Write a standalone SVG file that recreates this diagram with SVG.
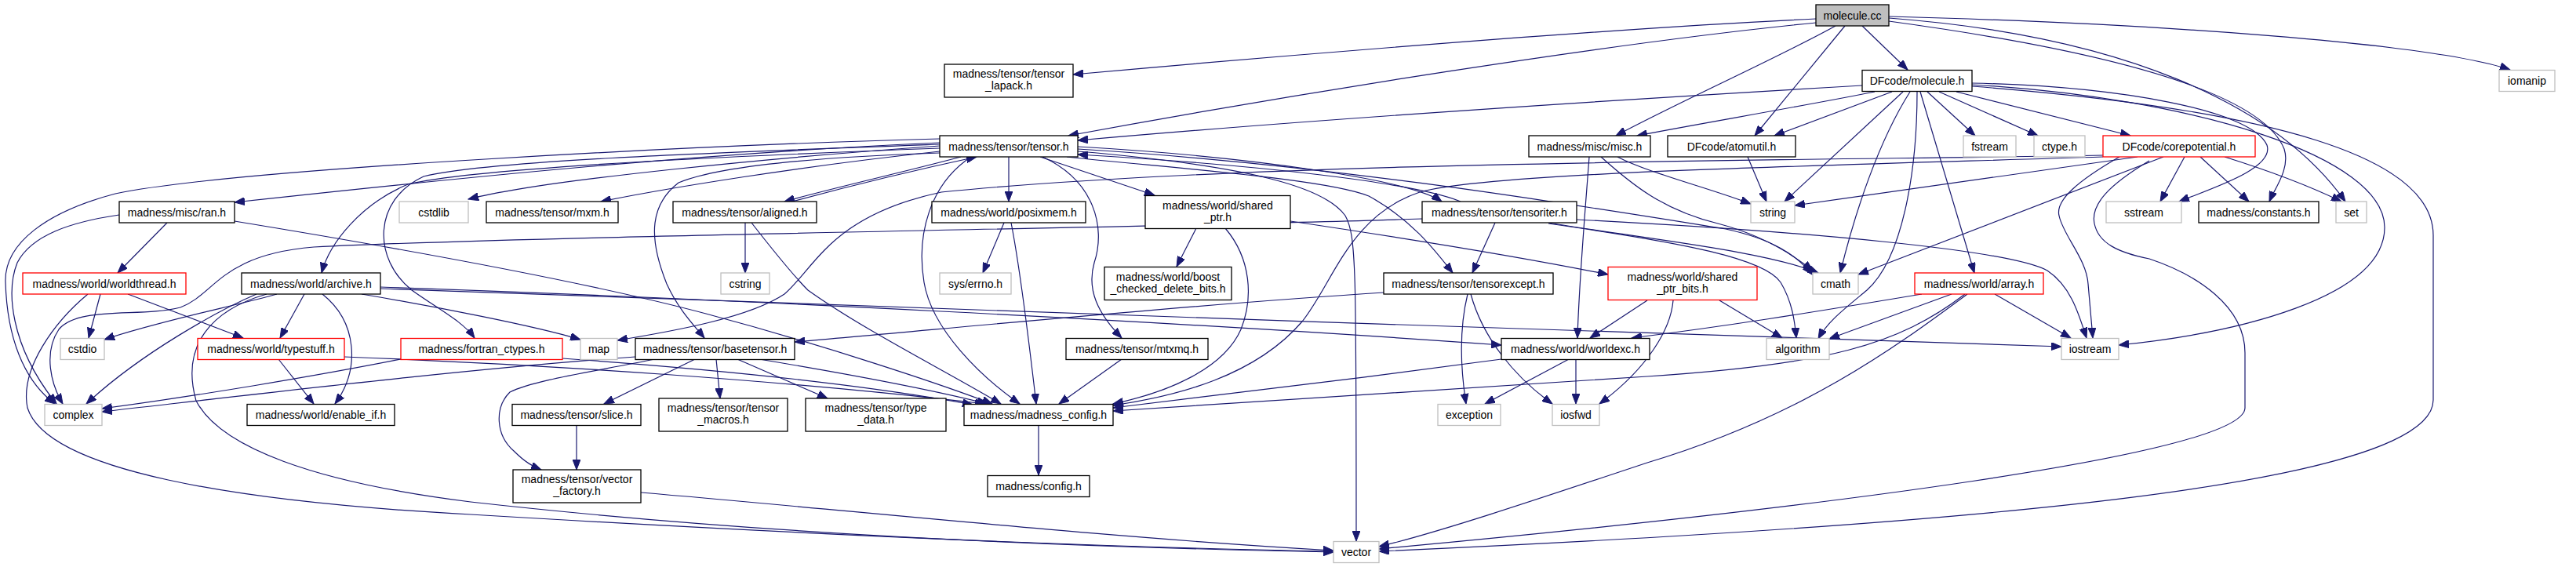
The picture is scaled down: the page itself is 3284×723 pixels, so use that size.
<svg xmlns="http://www.w3.org/2000/svg" width="3284" height="723" viewBox="0 0 3284 723">
<defs>
<marker id="ah" markerWidth="14" markerHeight="10" refX="13" refY="5" orient="auto" markerUnits="userSpaceOnUse"><path d="M0,0 L13,5 L0,10 z" fill="#191970" stroke="#191970" stroke-width="1"/></marker>
<style>
.n rect{fill:#fff;stroke:#000;stroke-width:1.3}
.g rect{fill:#fff;stroke:#bfbfbf;stroke-width:1.3}
.r rect{fill:#fff;stroke:#ff0000;stroke-width:1.3}
.root rect{fill:#bfbfbf;stroke:#000;stroke-width:1.3}
text{font-family:"Liberation Sans",Arial,sans-serif;font-size:14px;fill:#000;text-anchor:middle}
#edges path{fill:none;stroke:#191970;stroke-width:1.2;marker-end:url(#ah)}
</style>
</defs>
<rect width="3284" height="723" fill="#fff"/>
<g id="edges">
<path d="M2315,24 C2050,36 1600,74 1368,95"/>
<path d="M2315,29 C2050,55 1650,120 1362,173"/>
<path d="M2340,33 C2270,72 2140,130 2060,173"/>
<path d="M2352,33 L2237,173"/>
<path d="M2374,33 L2432,89"/>
<path d="M2408,21 C2750,30 3100,55 3200,89"/>
<path d="M2408,23 C2700,45 2900,130 2990,257"/>
<path d="M2408,27 C2650,60 2880,110 2912,190 C2920,215 2900,240 2893,257"/>
<path d="M2374,109 C2100,125 1700,150 1374,179"/>
<path d="M2390,117 C2300,135 2170,157 2087,173"/>
<path d="M2412,117 L2262,173"/>
<path d="M2426,117 L2275,257"/>
<path d="M2435,117 C2395,180 2365,270 2346,348"/>
<path d="M2444,117 C2444,220 2425,330 2380,370 C2350,395 2330,410 2318,432"/>
<path d="M2448,117 L2517,348"/>
<path d="M2457,117 L2518,173"/>
<path d="M2472,117 L2598,173"/>
<path d="M2494,117 L2716,173"/>
<path d="M2514,106 C2700,110 2870,140 2890,185 C2900,215 2820,240 2778,257"/>
<path d="M2514,108 C2800,125 3040,200 3040,290 C3040,380 2850,425 2701,440"/>
<path d="M2514,110 C2900,140 3102,200 3102,300 L3102,510 C3102,620 2500,670 1758,703"/>
<path d="M2681,198 C2300,205 1600,205 1200,245 C1060,275 1040,340 1000,375 C955,405 860,422 787,434"/>
<path d="M2681,200 C2300,212 1900,220 1810,245 C1720,275 1700,360 1660,410 C1600,480 1500,505 1419,517"/>
<path d="M2725,200 L2288,262"/>
<path d="M2758,200 L2369,350"/>
<path d="M2785,200 L2754,257"/>
<path d="M2805,200 L2867,257"/>
<path d="M2836,200 C2900,220 2950,240 2985,257"/>
<path d="M2702,200 C2650,230 2620,255 2625,275 C2630,300 2660,330 2662,362 L2668,431"/>
<path d="M2740,205 C2690,235 2665,260 2670,285 C2675,310 2700,322 2740,330 C2800,350 2862,390 2862,450 L2862,520 C2862,580 2300,650 1758,700"/>
<path d="M1198,182 C900,195 600,225 299,258"/>
<path d="M1198,177 C900,185 300,215 147,247 C60,270 5,310 7,360 C9,430 30,485 70,515"/>
<path d="M1198,186 C1000,200 700,228 597,254"/>
<path d="M1198,193 C1020,212 850,240 766,257"/>
<path d="M1225,200 C1150,220 1060,240 1000,257"/>
<path d="M1010,257 C1080,238 1180,214 1245,200"/>
<path d="M1198,189 C900,200 600,215 520,235 C460,260 420,310 410,348"/>
<path d="M1198,184 C900,195 620,205 540,225 C475,255 475,330 525,370 C560,395 590,410 605,431"/>
<path d="M1286,200 L1286,257"/>
<path d="M1326,200 L1472,249"/>
<path d="M1329,200 C1395,230 1410,290 1395,335 C1385,370 1400,400 1430,431"/>
<path d="M1238,200 C1185,235 1168,300 1178,360 C1188,420 1250,480 1300,515"/>
<path d="M1374,187 C1600,200 1800,230 1838,257"/>
<path d="M1862,257 C1800,232 1600,210 1374,197"/>
<path d="M1360,200 C1500,215 1690,228 1745,250 C1800,280 1830,320 1852,348"/>
<path d="M1198,195 C1050,200 920,210 865,233 C830,260 825,300 850,362 C865,395 885,415 898,431"/>
<path d="M1374,193 C1600,212 1690,240 1715,275 C1729,300 1729,340 1729,690"/>
<path d="M1374,190 C1700,210 2000,260 2200,292 C2260,305 2290,325 2310,350"/>
<path d="M2026,200 C2020,280 2013,360 2011,431"/>
<path d="M2062,200 C2100,220 2180,240 2232,260"/>
<path d="M2041,200 C2080,235 2120,268 2190,285 C2240,298 2280,320 2311,345"/>
<path d="M2228,200 L2252,257"/>
<path d="M213,284 L150,348"/>
<path d="M152,274 C90,283 40,300 22,335 C8,370 12,440 72,515"/>
<path d="M299,282 C500,315 750,360 900,400 C1050,440 1200,490 1265,515"/>
<path d="M128,375 L113,431"/>
<path d="M163,375 L310,431"/>
<path d="M112,375 C70,410 25,470 35,520 C60,600 300,640 600,656 C1000,680 1400,698 1700,703"/>
<path d="M353,375 C300,390 200,410 133,433"/>
<path d="M327,375 C280,395 180,450 110,515"/>
<path d="M340,375 C270,395 230,440 250,511 C280,570 400,615 600,640 C1000,685 1400,698 1700,704"/>
<path d="M388,375 L357,431"/>
<path d="M411,375 C455,410 460,470 427,515"/>
<path d="M461,375 C550,390 680,415 740,433"/>
<path d="M485,366 C900,380 1500,410 1914,440"/>
<path d="M485,368 C1000,390 2000,420 2628,442"/>
<path d="M355,458 L400,515"/>
<path d="M439,455 C700,465 1000,485 1256,515"/>
<path d="M511,458 C400,480 250,505 130,521"/>
<path d="M717,457 C900,470 1100,490 1240,516"/>
<path d="M810,455 C600,470 350,500 130,525"/>
<path d="M835,458 C750,475 680,485 650,500 C630,520 632,555 655,575 C670,590 680,595 690,599"/>
<path d="M886,458 L770,515"/>
<path d="M913,458 L918,508"/>
<path d="M940,458 L1055,508"/>
<path d="M968,458 C1100,480 1200,500 1259,515"/>
<path d="M950,284 L950,348"/>
<path d="M958,284 C990,325 1010,350 1030,370 C1100,420 1200,470 1276,515"/>
<path d="M735,542 L735,599"/>
<path d="M817,628 C1100,652 1400,685 1700,702"/>
<path d="M1430,458 L1350,515"/>
<path d="M1324,542 L1324,606"/>
<path d="M1280,284 L1253,348"/>
<path d="M1289,284 C1300,340 1310,420 1321,515"/>
<path d="M1525,291 L1500,340"/>
<path d="M1562,291 C1595,330 1598,380 1582,420 C1560,470 1490,500 1419,515"/>
<path d="M1645,282 C1800,305 1950,330 2050,350"/>
<path d="M2100,383 L2027,431"/>
<path d="M2133,383 C2130,420 2100,470 2039,515"/>
<path d="M2192,383 L2272,431"/>
<path d="M1871,375 C1860,420 1862,470 1869,515"/>
<path d="M1875,375 C1890,430 1930,480 1979,515"/>
<path d="M1764,373 C1500,390 1200,420 1013,436"/>
<path d="M2000,458 L1893,515"/>
<path d="M2009,458 L2009,515"/>
<path d="M1914,458 C1750,480 1550,505 1419,520"/>
<path d="M1906,284 L1877,348"/>
<path d="M1813,279 C1500,290 700,300 400,315 C280,325 275,375 230,392 C180,405 100,390 75,420 C55,450 65,490 80,515"/>
<path d="M2010,280 C2300,295 2560,318 2610,345 C2640,365 2650,400 2660,431"/>
<path d="M1974,284 C2100,305 2250,320 2318,348"/>
<path d="M1974,285 C2150,310 2250,330 2270,360 C2285,385 2288,410 2290,431"/>
<path d="M2450,375 C2300,400 2200,416 2080,431"/>
<path d="M2488,375 L2332,432"/>
<path d="M2543,375 L2640,431"/>
<path d="M2508,375 C2420,440 2300,530 2100,590 C1950,640 1830,680 1758,697"/>
<path d="M2505,375 C2420,440 2330,465 2100,480 C1800,500 1500,520 1419,524"/>
</g>
<g id="molecule_cc" class="root"><rect x="2315" y="6" width="93" height="27"/><text x="2361.5" y="24.5">molecule.cc</text></g>
<g id="tensor_lapack" class="n"><rect x="1204" y="82" width="164" height="42"/><text x="1286" y="99">madness/tensor/tensor</text><text x="1286" y="114">_lapack.h</text></g>
<g id="molecule_h" class="n"><rect x="2374" y="89.5" width="140" height="27"/><text x="2444" y="108">DFcode/molecule.h</text></g>
<g id="iomanip" class="g"><rect x="3186" y="89.5" width="71" height="27"/><text x="3221.5" y="108">iomanip</text></g>
<g id="tensor_h" class="n"><rect x="1198" y="173" width="176" height="27"/><text x="1286" y="191.5">madness/tensor/tensor.h</text></g>
<g id="misc_h" class="n"><rect x="1949" y="173" width="155" height="27"/><text x="2026.5" y="191.5">madness/misc/misc.h</text></g>
<g id="atomutil_h" class="n"><rect x="2126" y="173" width="163" height="27"/><text x="2207.5" y="191.5">DFcode/atomutil.h</text></g>
<g id="fstream" class="g"><rect x="2503" y="173" width="67" height="27"/><text x="2536.5" y="191.5">fstream</text></g>
<g id="ctype_h" class="g"><rect x="2593" y="173" width="65" height="27"/><text x="2625.5" y="191.5">ctype.h</text></g>
<g id="corepotential_h" class="r"><rect x="2681" y="173" width="194" height="27"/><text x="2778" y="191.5">DFcode/corepotential.h</text></g>
<g id="ran_h" class="n"><rect x="152" y="257" width="147" height="27"/><text x="225.5" y="275.5">madness/misc/ran.h</text></g>
<g id="cstdlib" class="g"><rect x="509" y="257" width="88" height="27"/><text x="553" y="275.5">cstdlib</text></g>
<g id="mxm_h" class="n"><rect x="620" y="257" width="168" height="27"/><text x="704" y="275.5">madness/tensor/mxm.h</text></g>
<g id="aligned_h" class="n"><rect x="858" y="257" width="183" height="27"/><text x="949.5" y="275.5">madness/tensor/aligned.h</text></g>
<g id="posixmem_h" class="n"><rect x="1188" y="257" width="196" height="27"/><text x="1286" y="275.5">madness/world/posixmem.h</text></g>
<g id="shared_ptr_h" class="n"><rect x="1460" y="249.5" width="185" height="42"/><text x="1552.5" y="266.5">madness/world/shared</text><text x="1552.5" y="281.5">_ptr.h</text></g>
<g id="tensoriter_h" class="n"><rect x="1813" y="257" width="197" height="27"/><text x="1911.5" y="275.5">madness/tensor/tensoriter.h</text></g>
<g id="string" class="g"><rect x="2232" y="257" width="56" height="27"/><text x="2260" y="275.5">string</text></g>
<g id="sstream" class="g"><rect x="2685" y="257" width="96" height="27"/><text x="2733" y="275.5">sstream</text></g>
<g id="constants_h" class="n"><rect x="2803" y="257" width="153" height="27"/><text x="2879.5" y="275.5">madness/constants.h</text></g>
<g id="set" class="g"><rect x="2978" y="257" width="39" height="27"/><text x="2997.5" y="275.5">set</text></g>
<g id="worldthread_h" class="r"><rect x="29" y="348" width="208" height="27"/><text x="133" y="366.5">madness/world/worldthread.h</text></g>
<g id="archive_h" class="n"><rect x="308" y="348" width="177" height="27"/><text x="396.5" y="366.5">madness/world/archive.h</text></g>
<g id="cstring" class="g"><rect x="919" y="348" width="62" height="27"/><text x="950" y="366.5">cstring</text></g>
<g id="sys_errno_h" class="g"><rect x="1198" y="348" width="91" height="27"/><text x="1243.5" y="366.5">sys/errno.h</text></g>
<g id="boost_checked_delete_bits_h" class="n"><rect x="1408" y="340.5" width="162" height="42"/><text x="1489" y="357.5">madness/world/boost</text><text x="1489" y="372.5">_checked_delete_bits.h</text></g>
<g id="tensorexcept_h" class="n"><rect x="1764" y="348" width="216" height="27"/><text x="1872" y="366.5">madness/tensor/tensorexcept.h</text></g>
<g id="shared_ptr_bits_h" class="r"><rect x="2050" y="340.5" width="190" height="42"/><text x="2145" y="357.5">madness/world/shared</text><text x="2145" y="372.5">_ptr_bits.h</text></g>
<g id="cmath" class="g"><rect x="2311" y="348" width="58" height="27"/><text x="2340" y="366.5">cmath</text></g>
<g id="array_h" class="r"><rect x="2441" y="348" width="164" height="27"/><text x="2523" y="366.5">madness/world/array.h</text></g>
<g id="cstdio" class="g"><rect x="77" y="431.5" width="56" height="27"/><text x="105" y="450">cstdio</text></g>
<g id="typestuff_h" class="r"><rect x="252" y="431.5" width="187" height="27"/><text x="345.5" y="450">madness/world/typestuff.h</text></g>
<g id="fortran_ctypes_h" class="r"><rect x="511" y="431.5" width="206" height="27"/><text x="614" y="450">madness/fortran_ctypes.h</text></g>
<g id="map" class="g"><rect x="740" y="431.5" width="47" height="27"/><text x="763.5" y="450">map</text></g>
<g id="basetensor_h" class="n"><rect x="810" y="431.5" width="203" height="27"/><text x="911.5" y="450">madness/tensor/basetensor.h</text></g>
<g id="mtxmq_h" class="n"><rect x="1359" y="431.5" width="181" height="27"/><text x="1449.5" y="450">madness/tensor/mtxmq.h</text></g>
<g id="worldexc_h" class="n"><rect x="1914" y="431.5" width="189" height="27"/><text x="2008.5" y="450">madness/world/worldexc.h</text></g>
<g id="algorithm" class="g"><rect x="2252" y="431.5" width="80" height="27"/><text x="2292" y="450">algorithm</text></g>
<g id="iostream" class="g"><rect x="2628" y="431.5" width="73" height="27"/><text x="2664.5" y="450">iostream</text></g>
<g id="complex" class="g"><rect x="57" y="515.5" width="73" height="27"/><text x="93.5" y="534">complex</text></g>
<g id="enable_if_h" class="n"><rect x="315" y="515.5" width="188" height="27"/><text x="409" y="534">madness/world/enable_if.h</text></g>
<g id="slice_h" class="n"><rect x="653" y="515.5" width="164" height="27"/><text x="735" y="534">madness/tensor/slice.h</text></g>
<g id="tensor_macros_h" class="n"><rect x="840" y="508" width="164" height="42"/><text x="922" y="525">madness/tensor/tensor</text><text x="922" y="540">_macros.h</text></g>
<g id="type_data_h" class="n"><rect x="1027" y="508" width="179" height="42"/><text x="1116.5" y="525">madness/tensor/type</text><text x="1116.5" y="540">_data.h</text></g>
<g id="madness_config_h" class="n"><rect x="1229" y="515.5" width="190" height="27"/><text x="1324" y="534">madness/madness_config.h</text></g>
<g id="exception" class="g"><rect x="1833" y="515.5" width="80" height="27"/><text x="1873" y="534">exception</text></g>
<g id="iosfwd" class="g"><rect x="1979" y="515.5" width="60" height="27"/><text x="2009" y="534">iosfwd</text></g>
<g id="vector_factory_h" class="n"><rect x="654" y="599" width="163" height="42"/><text x="735.5" y="616">madness/tensor/vector</text><text x="735.5" y="631">_factory.h</text></g>
<g id="config_h" class="n"><rect x="1259" y="606.5" width="130" height="27"/><text x="1324" y="625">madness/config.h</text></g>
<g id="vector" class="g"><rect x="1700" y="690.5" width="58" height="27"/><text x="1729" y="709">vector</text></g>
</svg>
